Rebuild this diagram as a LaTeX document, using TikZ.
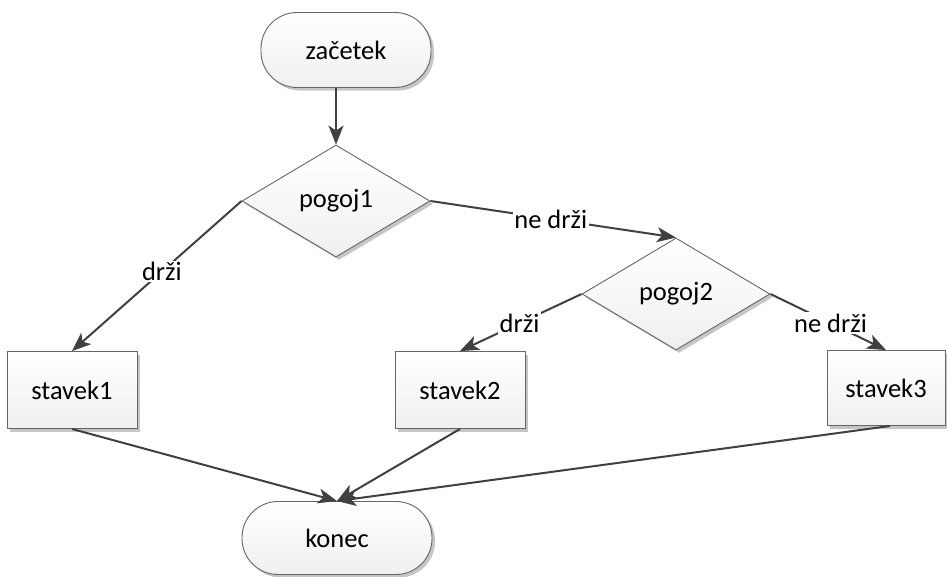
\documentclass[tikz,border=0pt]{standalone}
\usepackage{fontspec}
\setmainfont{Carlito}
\usetikzlibrary{shapes.geometric,shadows,arrows.meta}
\definecolor{edgec}{HTML}{404040}
\definecolor{bordc}{HTML}{666666}
\tikzset{
  shp/.style={draw=bordc, line width=0.9pt, top color=white, bottom color=gray!12,
    drop shadow={shadow xshift=3pt, shadow yshift=-3pt, fill=gray!45, opacity=1},
    font=\fontsize{26.5}{30}\selectfont, inner sep=0pt},
  term/.style={shp, rectangle, rounded corners=36pt},
  stepbox/.style={shp, rectangle, minimum width=130pt, minimum height=77pt},
  decision/.style={shp, diamond, minimum width=188pt, minimum height=112pt},
  conn/.style={draw=edgec, line width=2pt, -{Stealth[length=19pt,width=15pt,inset=5pt]}},
  lbl/.style={fill=white, inner sep=1.5pt, font=\fontsize{26.5}{30}\selectfont}
}
\begin{document}
\begin{tikzpicture}[x=1pt,y=-1pt]
\useasboundingbox (0,0) rectangle (947,576);
\node[term, minimum width=170pt, minimum height=75pt] (start) at (346,50) {začetek};
\node[decision] (d1) at (336,201) {pogoj1};
\node[decision] (d2) at (676,294) {pogoj2};
\node[stepbox] (s1) at (72,390) {stavek1};
\node[stepbox] (s2) at (460,390) {stavek2};
\node[stepbox, minimum width=118pt, minimum height=75pt] (s3) at (886,388) {stavek3};
\node[term, minimum width=190pt, minimum height=73pt] (end) at (337,538) {konec};

\draw[conn] (d1.north |- start.south) -- (d1.north);
\draw[conn] (d1.west) -- node[lbl, pos=0.47] {drži} (s1.north);
\draw[conn] (d1.east) -- node[lbl, pos=0.49] {ne drži} (d2.north);
\draw[conn] (d2.west) -- node[lbl, pos=0.51] {drži} (s2.north);
\draw[conn] (d2.east) -- node[lbl, pos=0.52] {ne drži} (s3.north);
\draw[conn] (s1.south) -- (end.north);
\draw[conn] (s2.south) -- (end.north);
\draw[conn] ([xshift=4pt]s3.south) -- (end.north);
\end{tikzpicture}
\end{document}
